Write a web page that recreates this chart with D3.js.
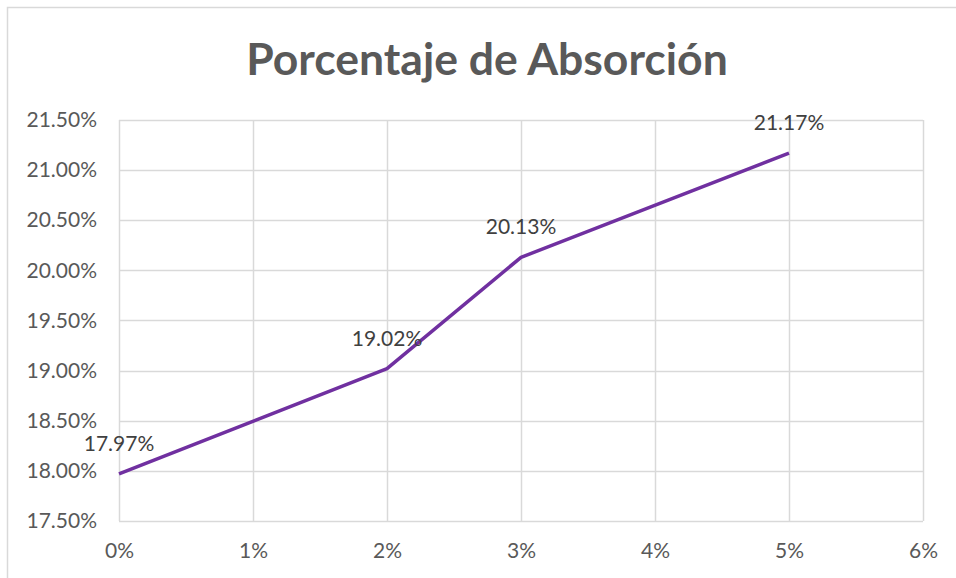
<!DOCTYPE html>
<html>
<head>
<meta charset="utf-8">
<script src="https://cdn.jsdelivr.net/npm/d3@7"></script>
<style>
  body { margin: 0; background: #fff; }
  svg text { font-family: Lato, "Open Sans", sans-serif; }
</style>
</head>
<body>
<svg id="chart" width="956" height="578"></svg>
<script>
// data
var xValues = [0, 0.02, 0.03, 0.05];
var yValues = [0.1797, 0.1902, 0.2013, 0.2117];
var xTicks = [0, 0.01, 0.02, 0.03, 0.04, 0.05, 0.06];
var yTicks = [0.175, 0.18, 0.185, 0.19, 0.195, 0.20, 0.205, 0.21, 0.215];
var title = "Porcentaje de Absorción";

var svg = d3.select("#chart"),
    width = +svg.attr("width"),
    height = +svg.attr("height");

var margin = {left: 119, right: 33, top: 120, bottom: 57};

var x = d3.scaleLinear()
    .domain([0, 0.06])
    .range([margin.left, width - margin.right]);

var y = d3.scaleLinear()
    .domain([0.175, 0.215])
    .range([height - margin.bottom, margin.top]);

// outer chart border
svg.append("rect")
    .attr("x", 7.5)
    .attr("y", 7.5)
    .attr("width", width + 10)
    .attr("height", height + 10)
    .style("fill", "none")
    .style("stroke", "#d9d9d9")
    .style("stroke-width", 1.5);

svg.append("text")
    .attr("x", 487)
    .attr("y", 75)
    .attr("text-anchor", "middle")
    .style("font-size", "44.5px")
    .style("font-weight", "bold")
    .style("fill", "#595959")
    .text(title);

// grid
var grid = svg.append("g").attr("class", "grid");
grid.selectAll(".h")
    .data(yTicks)
    .enter().append("line")
    .attr("x1", x(0)).attr("x2", x(0.06))
    .attr("y1", function (d) { return Math.round(y(d)) + 0.5; })
    .attr("y2", function (d) { return Math.round(y(d)) + 0.5; })
    .style("stroke", "#d9d9d9")
    .style("stroke-width", 1.5);
grid.selectAll(".v")
    .data(xTicks)
    .enter().append("line")
    .attr("y1", y(0.175)).attr("y2", y(0.215))
    .attr("x1", function (d) { return Math.round(x(d)) + 0.5; })
    .attr("x2", function (d) { return Math.round(x(d)) + 0.5; })
    .style("stroke", "#d9d9d9")
    .style("stroke-width", 1.5);

// axes
var yAxis = d3.axisLeft(y)
    .tickValues(yTicks)
    .tickSize(0)
    .tickPadding(22)
    .tickFormat(d3.format(".2%"));
var xAxis = d3.axisBottom(x)
    .tickValues(xTicks)
    .tickSize(0)
    .tickPadding(22)
    .tickFormat(d3.format(".0%"));

var gy = svg.append("g")
    .attr("transform", "translate(" + margin.left + ",0)")
    .call(yAxis);
var gx = svg.append("g")
    .attr("transform", "translate(0," + (height - margin.bottom) + ")")
    .call(xAxis);
[gx, gy].forEach(function (g) {
    g.select(".domain").remove();
    g.selectAll("text")
        .style("font-size", "21px")
        .style("fill", "#595959");
});

// line
var line = d3.line()
    .x(function (d) { return x(d[0]); })
    .y(function (d) { return y(d[1]); });

var points = xValues.map(function (v, i) { return [v, yValues[i]]; });

svg.append("path")
    .datum(points)
    .attr("d", line)
    .style("fill", "none")
    .style("stroke", "#7030a0")
    .style("stroke-width", 3.5)
    .style("stroke-linejoin", "round");

// labels
svg.selectAll(".label")
    .data(points)
    .enter().append("text")
    .attr("class", "label")
    .attr("x", function (d) { return x(d[0]); })
    .attr("y", function (d) { return y(d[1]) - 23; })
    .attr("text-anchor", "middle")
    .style("font-size", "21px")
    .style("fill", "#404040")
    .text(function (d) { return d3.format(".2%")(d[1]); });
</script>
</body>
</html>
